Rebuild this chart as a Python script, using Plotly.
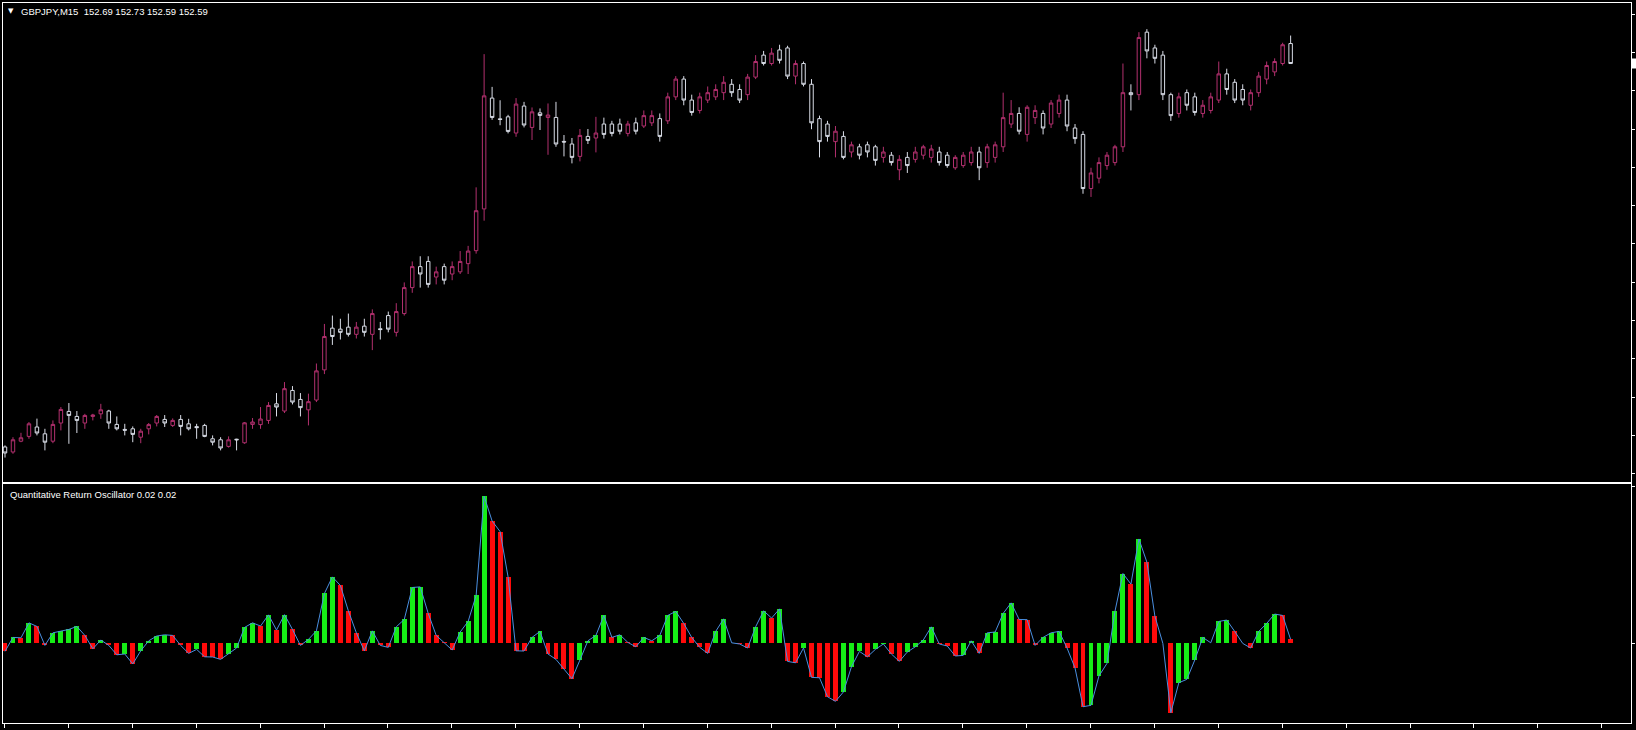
import plotly.graph_objects as go

# ---------------- data (GBPJPY M15, 162 bars) ----------------
open_ = [150.670,150.645,150.699,150.723,150.770,150.736,150.699,150.790,150.848,150.823,
         150.790,150.823,150.836,150.850,150.783,150.758,150.761,150.719,150.761,150.790,
         150.808,150.778,150.808,150.786,150.772,150.778,150.711,150.706,150.673,150.709,
         150.691,150.783,150.782,150.803,150.886,150.850,150.953,150.908,150.856,150.905,
         151.056,151.265,151.260,151.270,151.234,151.275,151.234,151.262,151.328,151.244,
         151.338,151.468,151.573,151.599,151.521,151.573,151.536,151.547,151.588,151.653,
         151.862,152.417,152.313,152.323,152.242,152.377,152.270,152.343,152.320,152.320,
         152.200,152.187,152.125,152.225,152.217,152.287,152.287,152.287,152.240,152.293,
         152.277,152.293,152.314,152.303,152.423,152.512,152.407,152.355,152.407,152.423,
         152.444,152.486,152.460,152.434,152.522,152.632,152.590,152.658,152.668,152.527,
         152.590,152.486,152.314,152.287,152.199,152.225,152.147,152.173,152.183,152.173,
         152.120,152.131,152.058,152.120,152.110,152.131,152.120,152.147,152.131,152.068,
         152.079,152.094,152.147,152.094,152.120,152.173,152.287,152.340,152.235,152.319,
         152.340,152.287,152.340,152.407,152.267,152.235,151.964,152.016,152.079,152.094,
         152.173,152.444,152.434,152.747,152.668,152.632,152.434,152.340,152.444,152.423,
         152.340,152.355,152.407,152.538,152.496,152.460,152.381,152.444,152.512,152.548,
         152.590,152.690]
high = [150.678,150.719,150.741,150.795,150.812,150.761,150.803,150.870,150.890,150.850,
        150.836,150.836,150.886,150.856,150.823,150.786,150.773,150.761,150.790,150.830,
        150.830,150.813,150.830,150.811,150.786,150.786,150.728,150.719,150.723,150.711,
        150.795,150.815,150.870,150.895,150.940,150.995,150.975,150.940,150.937,151.088,
        151.286,151.328,151.312,151.338,151.296,151.312,151.359,151.296,151.348,151.390,
        151.494,151.599,151.625,151.625,151.573,151.588,151.599,151.651,151.677,151.970,
        152.637,152.473,152.406,152.333,152.417,152.398,152.370,152.365,152.390,152.398,
        152.232,152.217,152.262,152.262,152.323,152.319,152.303,152.314,152.303,152.319,
        152.355,152.355,152.340,152.444,152.527,152.527,152.434,152.444,152.475,152.486,
        152.527,152.512,152.486,152.538,152.632,152.653,152.668,152.684,152.679,152.606,
        152.600,152.512,152.329,152.303,152.277,152.251,152.199,152.188,152.199,152.183,
        152.173,152.147,152.131,152.147,152.173,152.183,152.183,152.173,152.147,152.131,
        152.147,152.173,152.173,152.188,152.199,152.444,152.407,152.371,152.381,152.381,
        152.355,152.407,152.434,152.434,152.287,152.251,152.068,152.120,152.147,152.183,
        152.590,152.486,152.747,152.762,152.684,152.653,152.444,152.444,152.460,152.444,
        152.407,152.444,152.600,152.564,152.512,152.486,152.460,152.548,152.600,152.616,
        152.694,152.730]
low = [150.617,150.636,150.694,150.711,150.728,150.653,150.689,150.753,150.686,150.740,
       150.761,150.803,150.811,150.761,150.753,150.728,150.694,150.689,150.733,150.773,
       150.770,150.770,150.728,150.753,150.711,150.719,150.678,150.653,150.667,150.653,
       150.686,150.761,150.761,150.786,150.823,150.840,150.883,150.823,150.778,150.895,
       151.035,151.181,151.208,151.223,151.213,151.223,151.155,151.208,151.244,151.223,
       151.328,151.442,151.468,151.468,151.484,151.484,151.505,151.536,151.536,151.638,
       151.803,152.308,152.281,152.240,152.223,152.270,152.207,152.257,152.133,152.173,
       152.125,152.090,152.100,152.187,152.145,152.214,152.225,152.235,152.225,152.235,
       152.267,152.277,152.199,152.287,152.407,152.381,152.329,152.340,152.392,152.407,
       152.407,152.423,152.392,152.407,152.512,152.580,152.580,152.590,152.512,152.486,
       152.475,152.261,152.120,152.199,152.120,152.110,152.120,152.110,152.120,152.079,
       152.094,152.079,152.006,152.042,152.094,152.110,152.094,152.079,152.068,152.058,
       152.068,152.079,152.006,152.068,152.094,152.147,152.267,152.235,152.199,152.287,
       152.235,152.267,152.319,152.251,152.188,151.938,151.922,151.990,152.058,152.079,
       152.147,152.355,152.407,152.616,152.590,152.407,152.303,152.319,152.355,152.329,
       152.319,152.340,152.392,152.434,152.392,152.381,152.355,152.423,152.486,152.527,
       152.580,152.590]
close = [150.640,150.706,150.716,150.786,150.740,150.694,150.783,150.858,150.828,150.803,
         150.828,150.830,150.856,150.790,150.761,150.754,150.733,150.749,150.782,150.823,
         150.790,150.803,150.773,150.761,150.767,150.723,150.694,150.665,150.706,150.706,
         150.791,150.795,150.810,150.878,150.870,150.962,150.895,150.867,150.897,151.051,
         151.223,151.223,151.244,151.234,151.270,151.244,151.338,151.258,151.260,151.348,
         151.468,151.573,151.536,151.484,151.547,151.505,151.573,151.599,151.651,151.853,
         152.428,152.320,152.310,152.250,152.387,152.282,152.348,152.330,152.332,152.187,
         152.197,152.120,152.230,152.205,152.242,152.235,152.240,152.251,152.287,152.251,
         152.329,152.329,152.225,152.423,152.512,152.407,152.345,152.423,152.444,152.460,
         152.496,152.444,152.407,152.522,152.600,152.590,152.642,152.606,152.527,152.590,
         152.486,152.293,152.199,152.225,152.251,152.120,152.183,152.131,152.147,152.105,
         152.147,152.094,152.110,152.079,152.147,152.173,152.162,152.094,152.079,152.120,
         152.131,152.147,152.068,152.173,152.183,152.319,152.340,152.251,152.371,152.355,
         152.267,152.392,152.407,152.277,152.214,151.964,152.042,152.094,152.131,152.173,
         152.444,152.434,152.720,152.653,152.616,152.434,152.329,152.423,152.381,152.345,
         152.381,152.423,152.538,152.460,152.407,152.407,152.444,152.527,152.580,152.600,
         152.684,152.590]
qro = [-0.040,0.030,0.028,0.103,0.085,-0.010,0.053,0.063,0.070,0.085,
       0.040,-0.027,0.017,-0.010,-0.057,-0.053,-0.103,-0.037,0.013,0.037,
       0.043,0.040,-0.010,-0.050,-0.030,-0.067,-0.068,-0.080,-0.053,-0.023,
       0.080,0.103,0.087,0.143,0.067,0.144,0.070,-0.010,0.020,0.063,
       0.250,0.333,0.290,0.163,0.053,-0.037,0.063,-0.010,-0.020,0.083,
       0.120,0.280,0.283,0.150,0.040,0.005,-0.033,0.057,0.110,0.240,
       0.737,0.613,0.560,0.333,-0.037,-0.038,0.030,0.060,-0.053,-0.080,
       -0.130,-0.177,-0.083,0.013,0.040,0.140,0.030,0.043,0.005,-0.017,
       0.030,0.013,0.040,0.140,0.160,0.100,0.030,-0.020,-0.050,0.060,
       0.123,0.003,-0.003,-0.023,0.083,0.163,0.127,0.173,-0.090,-0.097,
       -0.023,-0.170,-0.172,-0.267,-0.290,-0.243,-0.117,-0.040,-0.067,-0.030,
       -0.003,-0.053,-0.090,-0.043,-0.017,0.017,0.083,-0.003,-0.013,-0.063,
       -0.060,0.013,-0.050,0.053,0.057,0.150,0.203,0.120,0.119,-0.010,
       0.030,0.053,0.060,-0.023,-0.123,-0.317,-0.310,-0.163,-0.100,0.160,
       0.350,0.297,0.523,0.407,0.137,0.000,-0.347,-0.197,-0.180,-0.083,
       0.030,0.003,0.110,0.117,0.060,0.000,-0.023,0.060,0.100,0.147,
       0.140,0.020]

symbol_label = "GBPJPY,M15  152.69 152.73 152.59 152.59"
indicator_label = "Quantitative Return Oscillator 0.02 0.02"

# ---------------- styling ----------------
BULL = "#b2306e"
BEAR = "#d8dce6"
UP_COL = "#16ee16"
DN_COL = "#ff0a0a"
LINE_COL = "#4a8fe0"
FRAME = "#ffffff"

bars = list(range(len(close)))
qro_colors = [DN_COL if i == 0 or qro[i] <= qro[i - 1] else UP_COL for i in range(len(qro))]

W, H = 1636, 730
ML, MR, MT, MB = 2, 3, 2, 7
plot_w = W - ML - MR
plot_h = H - MT - MB
y_bottom = H - MB  # 723
main_dom = [(y_bottom - 482) / plot_h, 1.0]
ind_dom = [0.0, (y_bottom - 484) / plot_h]
x_range = [-0.25, -0.25 + plot_w / 8.0]

fig = go.Figure()
fig.add_trace(go.Candlestick(
    x=bars, open=open_, high=high, low=low, close=close,
    increasing=dict(line=dict(color=BULL, width=1), fillcolor="#000000"),
    decreasing=dict(line=dict(color=BEAR, width=1), fillcolor="#000000"),
    whiskerwidth=0, xaxis="x", yaxis="y", showlegend=False, hoverinfo="skip"))
fig.add_trace(go.Bar(
    x=bars, y=qro, width=0.62,
    marker=dict(color=qro_colors, line=dict(width=0)),
    xaxis="x2", yaxis="y2", showlegend=False, hoverinfo="skip"))
fig.add_trace(go.Scatter(
    x=bars, y=qro, mode="lines", line=dict(color=LINE_COL, width=1),
    xaxis="x2", yaxis="y2", showlegend=False, hoverinfo="skip"))

price_ticks = [152.8365 - 0.19165 * k for k in range(13)]
time_ticks = [b - 0.05 for b in range(0, 204, 8)]

common_ax = dict(showline=True, linecolor=FRAME, linewidth=1, mirror=True,
                 showgrid=False, zeroline=False, showticklabels=False)

fig.update_layout(
    width=W, height=H,
    margin=dict(l=ML, r=MR, t=MT, b=MB, pad=0),
    paper_bgcolor="#000000", plot_bgcolor="#000000",
    showlegend=False, boxgap=0.38, bargap=0,
    hovermode=False,
    xaxis=dict(domain=[0, 1], range=x_range, anchor="y", ticks="",
               rangeslider=dict(visible=False), **common_ax),
    yaxis=dict(domain=main_dom, range=[150.493, 152.893], anchor="x", side="right",
               ticks="outside", ticklen=3, tickcolor=FRAME, tickvals=price_ticks, **common_ax),
    xaxis2=dict(domain=[0, 1], range=x_range, anchor="y2", ticks="outside", ticklen=4,
                tickcolor=FRAME, tickvals=time_ticks, **common_ax),
    yaxis2=dict(domain=ind_dom, range=[-0.3985, 0.7965], anchor="x2", side="right",
                ticks="outside", ticklen=3, tickcolor=FRAME, tickvals=[0, 0.787], **common_ax),
    shapes=[dict(type="rect", xref="paper", yref="y",
                 x0=1 + 1.0 / plot_w, x1=1 + 6.0 / plot_w, y0=152.565, y1=152.615,
                 fillcolor="#ffffff", line=dict(width=0), layer="above")],
    annotations=[
        dict(text="▼", xref="paper", yref="paper", x=(10 - ML) / plot_w,
             y=(y_bottom - 10.5) / plot_h, xanchor="center", yanchor="middle",
             showarrow=False, font=dict(family="DejaVu Sans", size=7, color="#ffffff")),
        dict(text=symbol_label, xref="paper", yref="paper", x=(18 - ML) / plot_w,
             y=(y_bottom - 10.5) / plot_h, xanchor="left", yanchor="middle",
             showarrow=False, font=dict(family="Liberation Sans", size=9.5, color="#ffffff")),
        dict(text=indicator_label, xref="paper", yref="paper", x=(7 - ML) / plot_w,
             y=(y_bottom - 494) / plot_h, xanchor="left", yanchor="middle",
             showarrow=False, font=dict(family="Liberation Sans", size=9.5, color="#ffffff")),
    ],
)

fig.write_html(
    "out.html",
    config={"displayModeBar": False, "staticPlot": True},
    post_script="document.body.style.margin='0px';document.body.style.padding='0px';"
                "document.body.style.background='#000000';document.body.style.overflow='hidden';",
)
